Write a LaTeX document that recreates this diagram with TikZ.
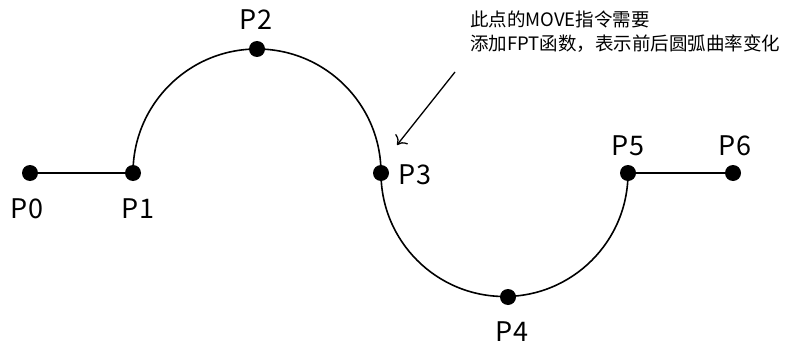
\documentclass[tikz,border=0pt]{standalone}
\usepackage{fontspec}
\setmainfont{Noto Sans CJK SC}
\usetikzlibrary{arrows.meta}
\begin{document}
\begin{tikzpicture}[x=1pt,y=-1pt,
  pt/.style={circle,fill=black,inner sep=0pt,minimum size=16pt},
  lbl/.style={font=\fontsize{27}{28}\selectfont,inner sep=0pt},
  path/.style={line width=1.6pt},
  note/.style={font=\fontsize{18.5}{24}\selectfont,align=left,inner sep=0pt,anchor=north west}]
\useasboundingbox (0,0) rectangle (790,345);
\node[pt] (p0) at (30,173) {};
\node[pt] (p1) at (133,173) {};
\node[pt] (p2) at (257,49) {};
\node[pt] (p3) at (381,173) {};
\node[pt] (p4) at (508,297) {};
\node[pt] (p5) at (628,173) {};
\node[pt] (p6) at (733,173) {};
\draw[path] (p0.center) -- (p1.center);
\draw[path] (p1.center) arc[start angle=180,end angle=360,radius=124];
\draw[path] (p3.center) arc[start angle=180,end angle=0,radius=123.5];
\draw[path] (p5.center) -- (p6.center);
\node[lbl] (l0) at (27,209) {P0};
\node[lbl] (l1) at (138,209) {P1};
\node[lbl] (l2) at (256,20) {P2};
\node[lbl] (l3) at (415,175) {P3};
\node[lbl] (l4) at (512,332) {P4};
\node[lbl] (l5) at (628,146) {P5};
\node[lbl] (l6) at (735,146) {P6};
\node[note] (n) at (470,11) {此点的MOVE指令需要\\添加FPT函数，表示前后圆弧曲率变化};
\coordinate (a1) at (455,72);
\coordinate (a2) at (397,145);
\draw[line width=1.3pt,-{To[length=8pt,width=16pt]}] (a1) -- (a2);
\end{tikzpicture}
\end{document}
